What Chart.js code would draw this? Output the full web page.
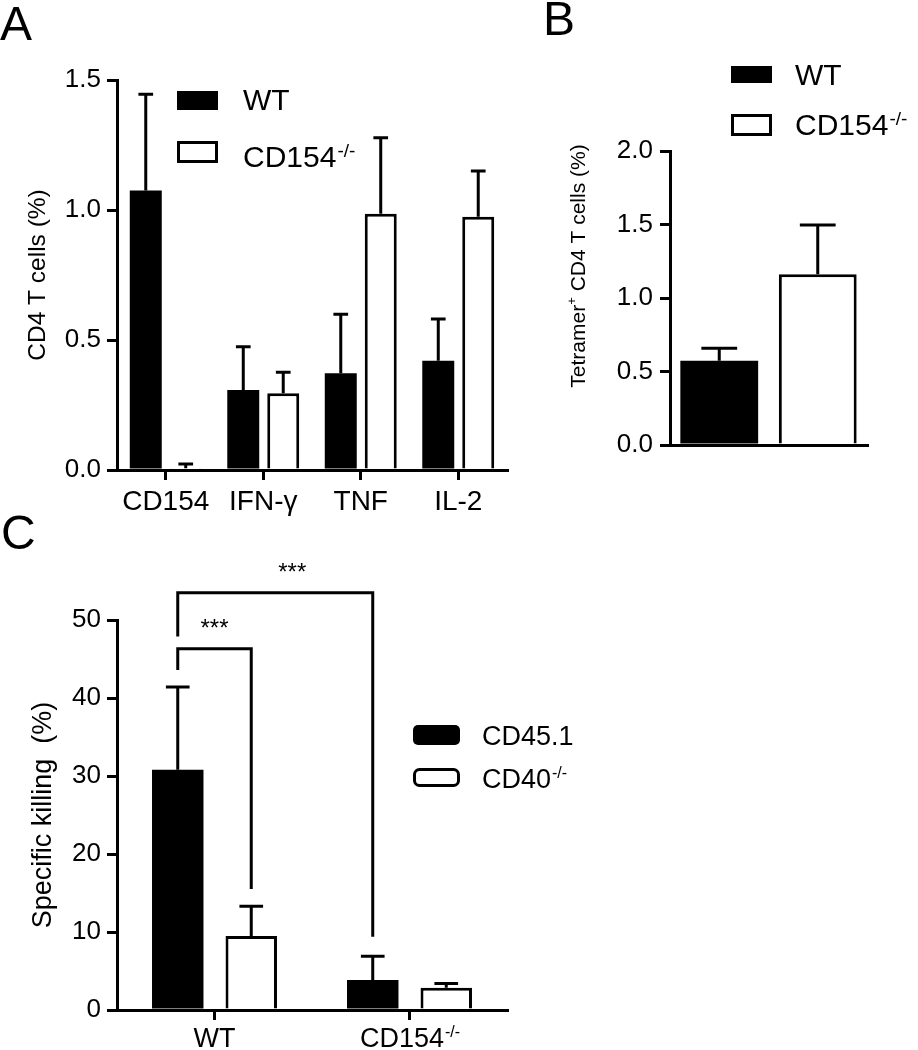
<!DOCTYPE html>
<html>
<head>
<meta charset="utf-8">
<script src="https://cdn.jsdelivr.net/npm/chart.js@4.4.1/dist/chart.umd.min.js"></script>
<style>
  html, body { margin:0; padding:0; background:#fff; }
  body { width:918px; height:1050px; position:relative; overflow:hidden; font-family:"Liberation Sans", Arial, Helvetica, sans-serif; }
  canvas { position:absolute; }
  .panel { position:absolute; font-size:48px; line-height:48px; color:#000; }
</style>
</head>
<body>
<canvas id="chartA" width="530" height="540" style="left:0;top:0;"></canvas>
<canvas id="chartB" width="378" height="480" style="left:540px;top:0;"></canvas>
<canvas id="chartC" width="600" height="510" style="left:0;top:540px;"></canvas>
<div class="panel" style="left:0;top:0px;">A</div>
<div class="panel" style="left:543px;top:-5px;">B</div>
<div class="panel" style="left:1px;top:509px;">C</div>
<script>
// ---------------- DATA ----------------
// Panel A
const categoriesA = ['CD154', 'IFN-γ', 'TNF', 'IL-2'];
const seriesNamesA = ['WT', 'CD154-/-'];
const wtA   = [1.075, 0.308, 0.372, 0.420];
const wtSdA = [0.370, 0.166, 0.227, 0.161];
const koA   = [0.007, 0.295, 0.986, 0.974];
const koSdA = [0.016, 0.081, 0.292, 0.176];
const ticksA = [0, 0.5, 1.0, 1.5];
const yTitleA = 'CD4 T cells (%)';

// Panel B
const groupsB = ['WT', 'CD154-/-'];
const meanB = [0.573, 1.161];
const sdB   = [0.085, 0.336];
const ticksB = [0, 0.5, 1.0, 1.5, 2.0];
const yTitleB = ['Tetramer', '+', ' CD4 T cells (%)'];

// Panel C
const categoriesC = ['WT', 'CD154-/-'];
const seriesNamesC = ['CD45.1', 'CD40-/-'];
const cd45C   = [30.8, 3.85];
const cd45SdC = [10.6, 3.05];
const cd40C   = [9.5, 2.86];
const cd40SdC = [3.8, 0.55];
const ticksC = [0, 10, 20, 30, 40, 50];
const yTitleC = 'Specific killing  (%)';
// significance brackets: [dataset, index] endpoints, bracket level and leg ends (data units)
const sigC = [
  { a: [0, 0], b: [1, 0], level: 46.3, aEnd: 43.6, bEnd: 15.5, text: '***' },
  { a: [0, 0], b: [0, 1], level: 53.5, aEnd: 47.9, bEnd: 9.4,  text: '***' }
];

// ---------------- STYLE / HELPERS ----------------
const FONT = '"Liberation Sans", Arial, Helvetica, sans-serif';
Chart.defaults.font.family = FONT;
Chart.defaults.color = '#000';
Chart.defaults.animation = false;
Chart.defaults.plugins.legend.display = false;
Chart.defaults.plugins.tooltip.enabled = false;

function splitSup(s) {
  return s.endsWith('-/-') ? [s.slice(0, -3), '-/-'] : [s, ''];
}
function drawSupText(ctx, x, y, text, size, supSize, rise, align) {
  const [base, sup] = splitSup(text);
  ctx.save();
  ctx.fillStyle = '#000';
  ctx.textBaseline = 'alphabetic';
  ctx.font = size + 'px ' + FONT;
  const wb = ctx.measureText(base).width;
  ctx.font = supSize + 'px ' + FONT;
  const ws = sup ? ctx.measureText(sup).width : 0;
  let x0 = x;
  if (align === 'center') x0 = x - (wb + ws) / 2;
  ctx.textAlign = 'left';
  ctx.font = size + 'px ' + FONT;
  ctx.fillText(base, x0, y);
  if (sup) {
    ctx.font = supSize + 'px ' + FONT;
    ctx.fillText(sup, x0 + wb + 1, y - rise);
  }
  ctx.restore();
}

function yAxis(o) {
  return {
    min: o.min, max: o.max,
    afterBuildTicks: s => { s.ticks = o.ticks.map(v => ({ value: v })); },
    ticks: { font: { size: 26 }, color: '#000', padding: o.pad,
             callback: v => Number(v).toFixed(o.decimals) },
    grid: { drawOnChartArea: false, drawTicks: true, tickLength: 10, lineWidth: 3, color: '#000' },
    border: { display: true, width: 3, color: '#000' },
    title: o.title || { display: false },
    afterFit: s => { s.width = o.width; }
  };
}
function xAxis(o) {
  return {
    offset: true,
    ticks: { display: o.labels, font: { size: o.font || 26 }, color: '#000', padding: o.pad || 3,
             maxRotation: 0, autoSkip: false },
    grid: { offset: false, drawOnChartArea: false, drawTicks: o.tickMarks, tickLength: 10,
            lineWidth: 3, color: '#000' },
    border: { display: true, width: 3, color: '#000' },
    afterFit: s => { s.height = o.height; }
  };
}

const errorBars = {
  id: 'errorBars',
  afterDatasetsDraw(chart) {
    const ctx = chart.ctx, y = chart.scales.y;
    chart.data.datasets.forEach((ds, di) => {
      if (!ds.sd) return;
      const meta = chart.getDatasetMeta(di);
      meta.data.forEach((el, i) => {
        const v = ds.data[i], e = ds.sd[i];
        if (v == null || e == null) return;
        const yBar = y.getPixelForValue(v);
        const yTop = y.getPixelForValue(v + e);
        const half = el.width * 0.23;
        ctx.save();
        ctx.strokeStyle = '#000';
        ctx.lineWidth = 3;
        ctx.beginPath();
        ctx.moveTo(el.x, yBar); ctx.lineTo(el.x, yTop);
        ctx.moveTo(el.x - half, yTop); ctx.lineTo(el.x + half, yTop);
        ctx.stroke();
        ctx.restore();
      });
    });
  }
};

function legendPlugin(cfg) {
  return {
    id: 'customLegend',
    afterDraw(chart) {
      const ctx = chart.ctx;
      chart.data.datasets.forEach((ds, i) => {
        const it = cfg.items[i];
        ctx.save();
        const filled = ds.backgroundColor === '#000';
        ctx.lineWidth = 3;
        ctx.strokeStyle = '#000';
        ctx.fillStyle = filled ? '#000' : '#fff';
        ctx.beginPath();
        if (filled) {
          ctx.roundRect(cfg.boxX, it.boxY, cfg.boxW, it.boxH, cfg.radius);
          ctx.fill();
        } else {
          ctx.roundRect(cfg.boxX + 1.5, it.boxY + 1.5, cfg.boxW - 3, it.boxH - 3, cfg.radius);
          ctx.fill(); ctx.stroke();
        }
        ctx.restore();
        drawSupText(ctx, cfg.textX, it.base, ds.label, cfg.font, cfg.supFont, cfg.rise, 'left');
      });
    }
  };
}

function barDatasets(names, values, sds, opts) {
  return names.map((n, i) => ({
    label: n,
    data: values[i],
    sd: sds[i],
    backgroundColor: i === 0 ? '#000' : '#fff',
    borderColor: '#000',
    borderWidth: i === 0 ? 0 : 3,
    barPercentage: opts.barPct,
    categoryPercentage: opts.catPct,
    grouped: opts.grouped !== false
  }));
}

// ---------------- PANEL A ----------------
new Chart(document.getElementById('chartA'), {
  type: 'bar',
  data: {
    labels: categoriesA,
    datasets: barDatasets(seriesNamesA, [wtA, koA], [wtSdA, koSdA], { barPct: 0.8, catPct: 0.82 })
  },
  options: {
    responsive: false, devicePixelRatio: 1,
    layout: { padding: { top: 80, left: 0, right: 23, bottom: 20 } },
    scales: {
      x: xAxis({ height: 50, labels: true, tickMarks: true, font: 28, pad: 5 }),
      y: yAxis({ min: 0, max: 1.5, ticks: ticksA, decimals: 1, width: 117, pad: 6,
        title: { display: true, text: yTitleA, font: { size: 24.5 }, color: '#000', padding: { top: 24, bottom: 0 } } })
    }
  },
  plugins: [errorBars, legendPlugin({
    boxX: 177, boxW: 41, textX: 243, font: 30, supFont: 19, rise: 10, radius: 0,
    items: [{ boxY: 91, boxH: 19, base: 110 }, { boxY: 141, boxH: 22, base: 167 }]
  })]
});

// ---------------- PANEL B ----------------
const dsB = groupsB.map((g, i) => ({
  label: g,
  data: groupsB.map((_, j) => j === i ? meanB[i] : null),
  sd: groupsB.map((_, j) => j === i ? sdB[i] : null),
  backgroundColor: i === 0 ? '#000' : '#fff',
  borderColor: '#000',
  borderWidth: i === 0 ? 0 : 3,
  barPercentage: 0.79,
  categoryPercentage: 1.0,
  grouped: false
}));
const titleBPlugin = {
  id: 'titleB',
  afterDraw(chart) {
    const ctx = chart.ctx;
    const parts = yTitleB;
    const sizes = [21, 13, 21];
    const rises = [0, 9, 0];
    ctx.save();
    ctx.translate(45, 266);
    ctx.rotate(-Math.PI / 2);
    ctx.fillStyle = '#000';
    ctx.textBaseline = 'alphabetic';
    ctx.textAlign = 'left';
    let total = 0;
    const widths = parts.map((p, i) => { ctx.font = sizes[i] + 'px ' + FONT; const w = ctx.measureText(p).width; total += w; return w; });
    let x = -total / 2;
    parts.forEach((p, i) => {
      ctx.font = sizes[i] + 'px ' + FONT;
      ctx.fillText(p, x, -rises[i]);
      x += widths[i];
    });
    ctx.restore();
  }
};
new Chart(document.getElementById('chartB'), {
  type: 'bar',
  data: { labels: groupsB, datasets: dsB },
  options: {
    responsive: false, devicePixelRatio: 1,
    layout: { padding: { top: 151, left: 0, right: 51, bottom: 25 } },
    scales: {
      x: xAxis({ height: 10, labels: false, tickMarks: false }),
      y: yAxis({ min: 0, max: 2, ticks: ticksB, decimals: 1, width: 130, pad: 7 })
    }
  },
  plugins: [errorBars, titleBPlugin, legendPlugin({
    boxX: 191, boxW: 41, textX: 255, font: 30, supFont: 19, rise: 10, radius: 0,
    items: [{ boxY: 66, boxH: 17, base: 85 }, { boxY: 114, boxH: 22, base: 135 }]
  })]
});

// ---------------- PANEL C ----------------
const cLabelsPlugin = {
  id: 'cLabels',
  afterDraw(chart) {
    const ctx = chart.ctx, xs = chart.scales.x;
    categoriesC.forEach((c, i) => {
      drawSupText(ctx, xs.getPixelForValue(i), 507, c, 27, 16, 10, 'center');
    });
  }
};
const bracketsPlugin = {
  id: 'brackets',
  afterDatasetsDraw(chart) {
    const ctx = chart.ctx, y = chart.scales.y;
    sigC.forEach(s => {
      const xa = chart.getDatasetMeta(s.a[0]).data[s.a[1]].x;
      const xb = chart.getDatasetMeta(s.b[0]).data[s.b[1]].x;
      const yl = y.getPixelForValue(s.level);
      const ya = y.getPixelForValue(s.aEnd);
      const yb = y.getPixelForValue(s.bEnd);
      ctx.save();
      ctx.strokeStyle = '#000';
      ctx.lineWidth = 3;
      ctx.lineJoin = 'miter';
      ctx.beginPath();
      ctx.moveTo(xa, ya); ctx.lineTo(xa, yl); ctx.lineTo(xb, yl); ctx.lineTo(xb, yb);
      ctx.stroke();
      ctx.fillStyle = '#000';
      ctx.font = '24px ' + FONT;
      ctx.textAlign = 'center';
      ctx.textBaseline = 'alphabetic';
      const span = Math.abs(xb - xa);
      const dx = span > 120 ? 17 : 0;
      ctx.fillText(s.text, (xa + xb) / 2 + dx, yl - 13);
      ctx.restore();
    });
  }
};
new Chart(document.getElementById('chartC'), {
  type: 'bar',
  data: {
    labels: categoriesC,
    datasets: barDatasets(seriesNamesC, [cd45C, cd40C], [cd45SdC, cd40SdC], { barPct: 0.70, catPct: 0.754 })
  },
  options: {
    responsive: false, devicePixelRatio: 1,
    layout: { padding: { top: 80, left: 0, right: 93, bottom: 0 } },
    scales: {
      x: xAxis({ height: 40, labels: false, tickMarks: true }),
      y: yAxis({ min: 0, max: 50, ticks: ticksC, decimals: 0, width: 117, pad: 6,
        title: { display: true, text: yTitleC, font: { size: 27 }, color: '#000', padding: { top: 27, bottom: 0 } } })
    }
  },
  plugins: [errorBars, bracketsPlugin, cLabelsPlugin, legendPlugin({
    boxX: 413, boxW: 47, textX: 482, font: 27, supFont: 16, rise: 10, radius: 5,
    items: [{ boxY: 185, boxH: 20, base: 205 }, { boxY: 228, boxH: 19, base: 248 }]
  })]
});
</script>
</body>
</html>
